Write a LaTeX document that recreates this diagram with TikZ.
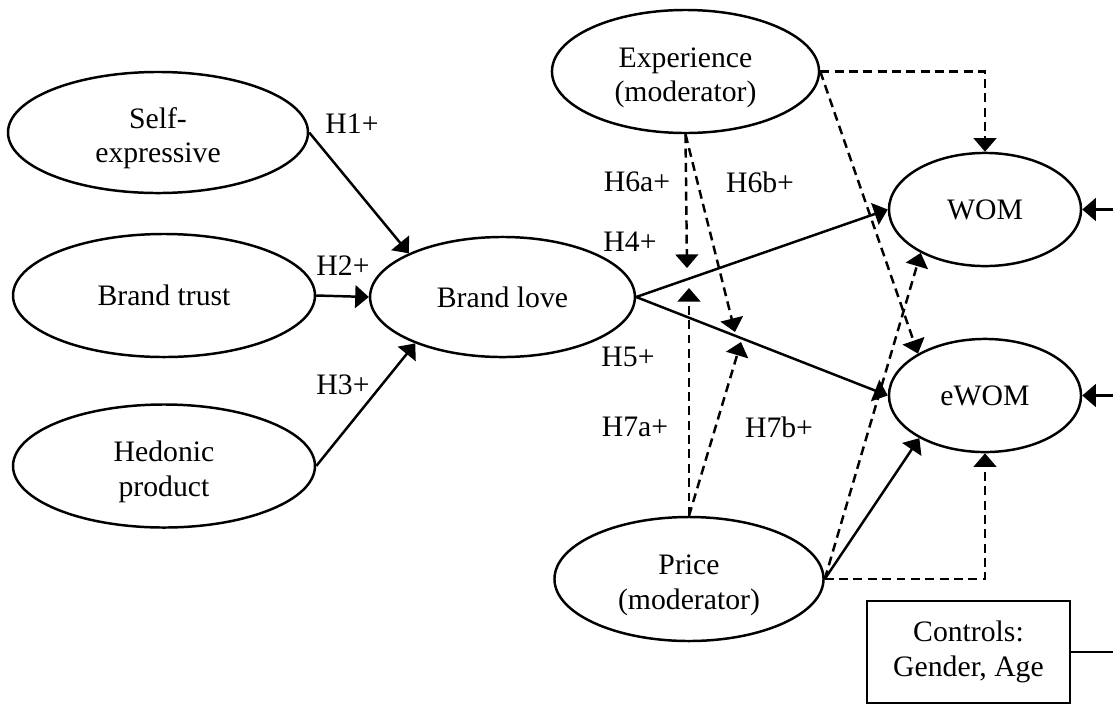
\documentclass[tikz,border=0pt]{standalone}
\usepackage{fontspec}
\setmainfont{Liberation Serif}
\usetikzlibrary{arrows.meta,shapes.geometric}
\newcommand{\lowtext}[1]{\raisebox{-2.4pt}[\height][\depth]{\begin{tabular}{@{}c@{}}#1\end{tabular}}}

\begin{document}
\begin{tikzpicture}[x=0.404pt,y=-0.404pt,line width=1pt,
  font=\fontsize{12}{14}\selectfont,
  cons/.style={draw,ellipse,inner sep=0pt,align=center},
  hyp/.style={inner sep=0pt},
  ctrl/.style={draw,inner sep=0pt,align=center,minimum width=82pt,minimum height=41.2pt},
  arr/.style={-{Triangle[length=5.5pt,width=9.2pt]}},
  mod/.style={arr,dash pattern=on 3.6pt off 2.2pt}
]
\clip (0,0) rectangle (1113,704);
% constructs
\node[cons,minimum width=121.2pt,minimum height=48.9pt] (self) at (158,132.5) {\lowtext{Self-\\expressive}};
\node[cons,minimum width=122pt,minimum height=49.7pt] (trust) at (164,295.5) {Brand trust};
\node[cons,minimum width=122pt,minimum height=49.7pt] (hedo) at (164,466) {\lowtext{Hedonic\\product}};
\node[cons,minimum width=107pt,minimum height=48.5pt] (love) at (502.5,297) {Brand love};
\node[cons,minimum width=107.9pt,minimum height=49.7pt] (exp) at (685.5,71.5) {\lowtext{Experience\\(moderator)}};
\node[cons,minimum width=108.7pt,minimum height=50.1pt] (price) at (689,579) {\lowtext{Price\\(moderator)}};
\node[cons,minimum width=77.6pt,minimum height=45.7pt] (wom) at (985,209.5) {WOM};
\node[cons,minimum width=77.6pt,minimum height=45.7pt] (ewom) at (985,395.5) {eWOM};
\node[ctrl] (ctl) at (968.5,652) {Controls:\\Gender, Age};
% moderation points and control rail
\coordinate (h4a) at (687,268);
\coordinate (h4b) at (689,288);
\coordinate (h5a) at (735,332);
\coordinate (h5b) at (741,342);
\coordinate (rail) at (1125,652);
% direct paths
\draw[arr] (self.east) -- (love.155);
\draw[arr] (trust.east) -- (love.west);
\draw[arr] (hedo.east) -- (love.208);
\draw[arr] (love.east) -- (wom.west);
\draw[arr] (love.east) -- (ewom.west);
\draw[arr] (price.east) -- (ewom.213);
% moderators
\draw[mod] (exp.east) -| (wom.north);
\draw[mod] (exp.east) -- (ewom.148);
\draw[mod] (exp.south) -- (h4a);
\draw[mod] (exp.south) -- (h5a);
\draw[mod] (price.north) -- (h4b);
\draw[mod] (price.north) -- (h5b);
\draw[mod] (price.east) -- (wom.214);
\draw[mod] (price.east) -| (ewom.south);
% controls
\draw (ctl.east) -- (rail);
\draw[arr] (rail) |- (wom.east);
\draw[arr] (rail) |- (ewom.east);
% hypotheses
\node[hyp] (h1) at (352,124) {H1+};
\node[hyp] (h2) at (343,266) {H2+};
\node[hyp] (h3) at (343,385) {H3+};
\node[hyp] (h4) at (630,242) {H4+};
\node[hyp] (h5) at (628,357) {H5+};
\node[hyp] (h6a) at (637,182) {H6a+};
\node[hyp] (h6b) at (760,182) {H6b+};
\node[hyp] (h7a) at (635,427) {H7a+};
\node[hyp] (h7b) at (779,427) {H7b+};
\end{tikzpicture}
\end{document}
